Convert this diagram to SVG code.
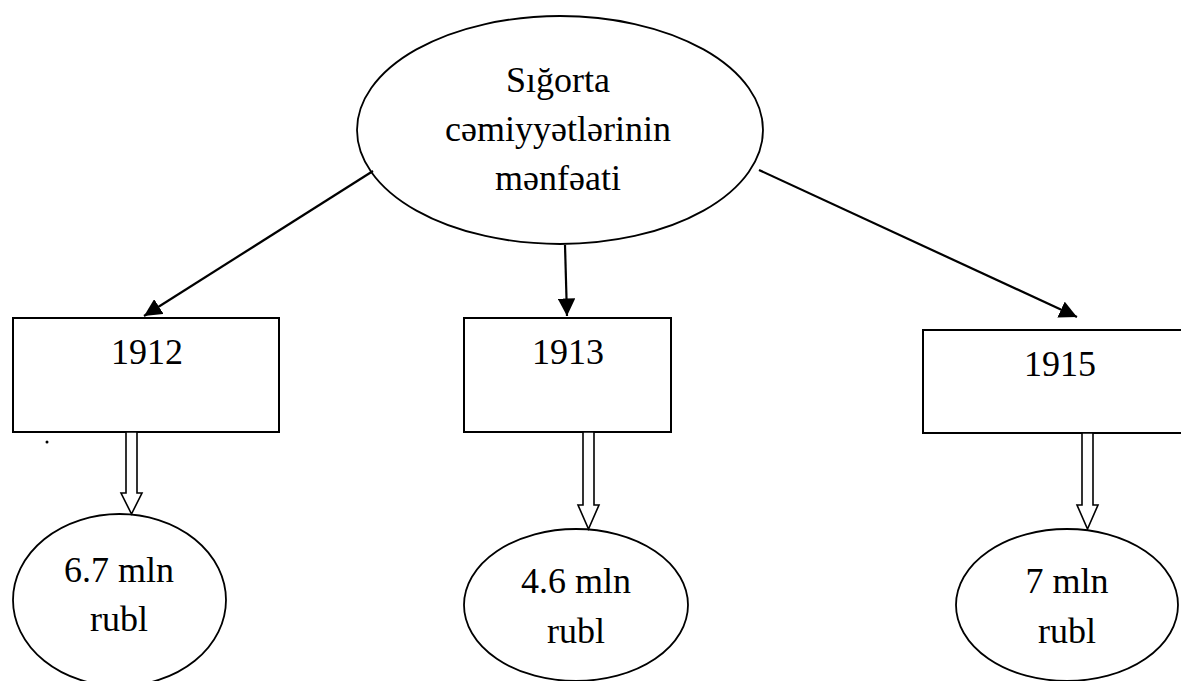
<svg xmlns="http://www.w3.org/2000/svg" width="1181" height="681" viewBox="0 0 1181 681">
  <style>
    .shape { fill: #ffffff; stroke: #000000; stroke-width: 2; }
    .oval { fill: #ffffff; stroke: #000000; stroke-width: 1.8; }
    .label { font-family: 'Liberation Serif', 'DejaVu Serif', serif; font-size: 36px; fill: #000000; text-anchor: middle; }
    .link { stroke: #000000; stroke-width: 2.2; fill: none; }
    .hollow { fill: #ffffff; stroke: #000000; stroke-width: 1.6; }
  </style>
  <defs>
    <marker id="head" viewBox="0 0 10 10" refX="10" refY="5" markerWidth="8" markerHeight="8" markerUnits="strokeWidth" orient="auto">
      <path d="M0,0 L10,5 L0,10 z" fill="#000000"/>
    </marker>
  </defs>

  <rect width="1181" height="681" fill="#ffffff"/>

  <!-- top oval -->
  <g id="root">
    <ellipse class="oval" cx="560" cy="130" rx="203" ry="114"/>
    <text class="label" font-family="Liberation Serif, serif" x="558" y="92">Sığorta</text>
    <text class="label" font-family="Liberation Serif, serif" x="558" y="141">cəmiyyətlərinin</text>
    <text class="label" font-family="Liberation Serif, serif" x="558" y="190">mənfəati</text>
  </g>

  <!-- year boxes -->
  <g id="year-1912">
    <rect class="shape" x="13" y="318" width="266" height="114"/>
    <text class="label" x="147" y="364">1912</text>
  </g>
  <g id="year-1913">
    <rect class="shape" x="464" y="318" width="207" height="114"/>
    <text class="label" x="568" y="364">1913</text>
  </g>
  <g id="year-1915">
    <rect class="shape" x="923" y="330" width="270" height="103"/>
    <text class="label" x="1060" y="376">1915</text>
  </g>

  <!-- stray dot under the first box -->
  <circle cx="47" cy="442" r="1.5" fill="#000000"/>

  <!-- amount ovals -->
  <g id="amount-1912">
    <ellipse class="oval" cx="119.5" cy="600" rx="106.5" ry="86"/>
    <text class="label" x="119" y="582">6.7 mln</text>
    <text class="label" x="119" y="631">rubl</text>
  </g>
  <g id="amount-1913">
    <ellipse class="oval" cx="576" cy="605" rx="112" ry="76"/>
    <text class="label" x="576" y="593">4.6 mln</text>
    <text class="label" x="576" y="643">rubl</text>
  </g>
  <g id="amount-1915">
    <ellipse class="oval" cx="1067" cy="605" rx="111" ry="76"/>
    <text class="label" x="1067" y="593">7 mln</text>
    <text class="label" x="1067" y="643">rubl</text>
  </g>

  <!-- connectors -->
  <g id="connectors">
    <line class="link" x1="373" y1="171" x2="144" y2="316" marker-end="url(#head)"/>
    <line class="link" x1="565" y1="245" x2="567" y2="316" marker-end="url(#head)"/>
    <line class="link" x1="759" y1="170" x2="1077" y2="317" marker-end="url(#head)"/>

    <!-- hollow block arrows from boxes to ovals -->
    <path class="hollow" d="M126,432 L137,432 L137,493 L142,493 L131.5,514 L121,493 L126,493 Z"/>
    <path class="hollow" d="M583,432 L594,432 L594,505 L599,505 L588.5,529 L578,505 L583,505 Z"/>
    <path class="hollow" d="M1082,433 L1093,433 L1093,505 L1098,505 L1087.5,529 L1077,505 L1082,505 Z"/>
  </g>
</svg>
